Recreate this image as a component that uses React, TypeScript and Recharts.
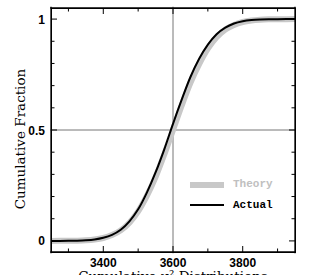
import React from 'react';
import { LineChart, Line, XAxis, YAxis, ReferenceLine, Legend } from 'recharts';

const xValues = [3250, 3275, 3300, 3325, 3350, 3375, 3400, 3425, 3450, 3475, 3500, 3525, 3550, 3575, 3600, 3625, 3650, 3675, 3700, 3725, 3750, 3775, 3800, 3825, 3850, 3875, 3900, 3925, 3950];
const theoryValues = [0, 0.0002, 0.0004, 0.0011, 0.0027, 0.0062, 0.0132, 0.0262, 0.0475, 0.0823, 0.1335, 0.2033, 0.2877, 0.3897, 0.5, 0.6103, 0.7123, 0.7967, 0.8665, 0.9177, 0.9525, 0.9738, 0.9868, 0.9938, 0.9973, 0.9989, 0.9996, 0.9998, 1];
const actualValues = [0, 0.0001, 0.0004, 0.0011, 0.0028, 0.0064, 0.0139, 0.0274, 0.0505, 0.0885, 0.1423, 0.2177, 0.3085, 0.4129, 0.5279, 0.6368, 0.7389, 0.8212, 0.8849, 0.9319, 0.9616, 0.9803, 0.9904, 0.9957, 0.9982, 0.9993, 0.9997, 0.9999, 1];

const xFrame = [3250, 3950];
const yFrame = [-0.05, 1.05];
const xDomain = [3248, 3952];
const yDomain = [-0.056, 1.056];
const xTicks = [3300, 3400, 3500, 3600, 3700, 3800, 3900];
const xLabelTicks = [3400, 3600, 3800];
const yTicks = [0, 0.1, 0.2, 0.3, 0.4, 0.5, 0.6, 0.7, 0.8, 0.9, 1];
const yLabelTicks = [0, 0.5, 1];
const legendOrder = ['theory', 'actual'];
const crossX = 3600;
const crossY = 0.5;

const data = xValues.map((x, i) => ({ x, theory: theoryValues[i], actual: actualValues[i] }));

const PLOT = { left: 51, right: 295, top: 8, bottom: 252 };
const PX_PER_X = (PLOT.right - PLOT.left) / (xFrame[1] - xFrame[0]);
const PX_PER_Y = (PLOT.bottom - PLOT.top) / (yFrame[1] - yFrame[0]);
const MAJOR_LEN = 6;
const MINOR_LEN = 3.5;

const tickFont = { fontFamily: '"Liberation Sans", Arial, sans-serif', fontWeight: 700, fontSize: 12 };

const isMajor = (v: number, list: number[]) => list.some((m) => Math.abs(m - v) < 1e-9);

const BottomTick = (p: any) => {
  const v = p.payload.value;
  const major = isMajor(v, xLabelTicks);
  const len = major ? MAJOR_LEN : MINOR_LEN;
  return (
    <g>
      <line x1={p.x} x2={p.x} y1={PLOT.bottom} y2={PLOT.bottom - len} stroke="#000" strokeWidth={1} />
      {major && (
        <text x={p.x} y={266.5} textAnchor="middle" fill="#000" {...tickFont}>{v}</text>
      )}
    </g>
  );
};

const LeftTick = (p: any) => {
  const v = p.payload.value;
  const major = isMajor(v, yLabelTicks);
  const len = major ? MAJOR_LEN : MINOR_LEN;
  return (
    <g>
      <line x1={PLOT.left} x2={PLOT.left + len} y1={p.y} y2={p.y} stroke="#000" strokeWidth={1} />
      {major && (
        <text x={45} y={p.y + 4.5} textAnchor="end" fill="#000" {...tickFont}>{String(v)}</text>
      )}
    </g>
  );
};

const titleFont = { fontFamily: '"DejaVu Serif", serif', fontSize: 13.5 };

const LegendContent = (props: any) => {
  const items = [...(props.payload || [])]
    .filter((a: any) => legendOrder.includes(a.dataKey))
    .sort((a: any, b: any) => legendOrder.indexOf(a.dataKey) - legendOrder.indexOf(b.dataKey));
  return (
    <div>
      {items.map((it: any, i: number) => {
        const isTheory = it.dataKey === 'theory';
        return (
          <div key={i} style={{ display: 'flex', alignItems: 'center', height: 20.5 }}>
            <svg width={36} height={10} style={{ display: 'block' }}>
              <line x1={0} x2={34} y1={5} y2={5} stroke={isTheory ? '#c8c8c8' : '#000'} strokeWidth={isTheory ? 6 : 2} />
            </svg>
            <span style={{ marginLeft: 7, fontFamily: '"Liberation Mono", monospace', fontWeight: 700, fontSize: 11, color: isTheory ? '#c0c0c0' : '#000', lineHeight: '11px' }}>
              {it.value}
            </span>
          </div>
        );
      })}
    </div>
  );
};

const leftPad = (xFrame[0] - xDomain[0]) * PX_PER_X;
const rightPad = (xDomain[1] - xFrame[1]) * PX_PER_X;
const topPad = (yDomain[1] - yFrame[1]) * PX_PER_Y;
const bottomPad = (yFrame[0] - yDomain[0]) * PX_PER_Y;

export default function App() {
  return (
    <div style={{ position: 'absolute', left: 0, top: 0, width: 314, height: 275, background: '#fff', overflow: 'hidden' }}>
      <LineChart
        width={314}
        height={275}
        data={data}
        margin={{ top: PLOT.top - topPad, right: 314 - PLOT.right - rightPad, bottom: 275 - PLOT.bottom - bottomPad - 1, left: 0 }}
      >
        <XAxis
          dataKey="x"
          type="number"
          domain={xDomain}
          ticks={xTicks}
          allowDataOverflow
          height={1}
          tickSize={0}
          tickMargin={0}
          tickLine={false}
          tick={BottomTick}
          axisLine={false}
          interval={0}
          label={{
            content: () => (
              <text x={173} y={281} textAnchor="middle" fill="#000" {...titleFont}>
                Cumulative χ² Distributions
              </text>
            ),
          }}
        />
        <YAxis
          type="number"
          domain={yDomain}
          ticks={yTicks}
          allowDataOverflow
          width={PLOT.left - leftPad}
          tickSize={0}
          tickMargin={0}
          tickLine={false}
          tick={LeftTick}
          axisLine={false}
          interval={0}
          label={{
            content: () => (
              <text x={25} y={139} transform="rotate(-90 25 139)" textAnchor="middle" fill="#000" {...titleFont}>
                Cumulative Fraction
              </text>
            ),
          }}
        />
        <ReferenceLine x={crossX} stroke="#777" strokeWidth={1} />
        <ReferenceLine y={crossY} stroke="#777" strokeWidth={1} />
        <Line dataKey="theory" name="Theory" type="monotone" stroke="#c8c8c8" strokeWidth={6} dot={false} isAnimationActive={false} />
        <Line dataKey="actual" name="Actual" type="monotone" stroke="#000" strokeWidth={2} dot={false} isAnimationActive={false} />
        {xTicks.map((t) => {
          const len = (isMajor(t, xLabelTicks) ? MAJOR_LEN : MINOR_LEN) / PX_PER_Y;
          return (
            <ReferenceLine
              key={`tx${t}`}
              segment={[{ x: t, y: yFrame[1] }, { x: t, y: yFrame[1] - len }]}
              stroke="#000"
              strokeWidth={1}
            />
          );
        })}
        {yTicks.map((t) => {
          const len = (isMajor(t, yLabelTicks) ? MAJOR_LEN : MINOR_LEN) / PX_PER_X;
          return (
            <ReferenceLine
              key={`ty${t}`}
              segment={[{ x: xFrame[1], y: t }, { x: xFrame[1] - len, y: t }]}
              stroke="#000"
              strokeWidth={1}
            />
          );
        })}
        <ReferenceLine x={xFrame[0]} stroke="#000" strokeWidth={1.3} />
        <ReferenceLine x={xFrame[1]} stroke="#000" strokeWidth={1.3} />
        <ReferenceLine y={yFrame[0]} stroke="#000" strokeWidth={1.3} />
        <ReferenceLine y={yFrame[1]} stroke="#000" strokeWidth={1.3} />
        <Legend
          layout="vertical"
          align="center"
          verticalAlign="middle"
          content={LegendContent}
          wrapperStyle={{ left: 190, top: 174.5, width: 100, height: 41 }}
        />
      </LineChart>
      <div
        style={{
          position: 'absolute',
          left: PLOT.left - 0.5,
          top: PLOT.top - 0.5,
          width: PLOT.right - PLOT.left + 1,
          height: PLOT.bottom - PLOT.top + 1,
          border: '1px solid #000',
          boxSizing: 'border-box',
          pointerEvents: 'none',
          zIndex: 5,
        }}
      />
    </div>
  );
}
